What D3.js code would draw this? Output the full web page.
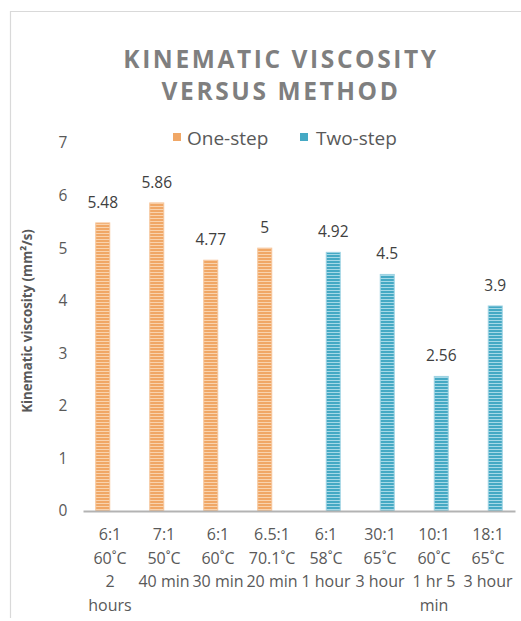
<!DOCTYPE html>
<html>
<head>
<meta charset="utf-8">
<script src="https://cdn.jsdelivr.net/npm/d3@7"></script>
<style>
  html, body { margin: 0; padding: 0; background: #fff; }
  svg { display: block; font-family: "Open Sans", "Noto Sans", sans-serif; }
</style>
</head>
<body>
<svg id="chart" width="521" height="621"></svg>
<script>
// Kinematic viscosity by transesterification method
const categories = [
  ["6:1", "60˚C", "2", "hours"],
  ["7:1", "50˚C", "40 min"],
  ["6:1", "60˚C", "30 min"],
  ["6.5:1", "70.1˚C", "20 min"],
  ["6:1", "58˚C", "1 hour"],
  ["30:1", "65˚C", "3 hour"],
  ["10:1", "60˚C", "1 hr 5", "min"],
  ["18:1", "65˚C", "3 hour"]
];
const seriesNames = ["One-step", "Two-step"];
const oneStep = [5.48, 5.86, 4.77, 5, null, null, null, null];
const twoStep = [null, null, null, null, 4.92, 4.5, 2.56, 3.9];
const yTicks = [0, 1, 2, 3, 4, 5, 6, 7];
const titleLines = ["KINEMATIC VISCOSITY", "VERSUS METHOD"];
const yTitle = "Kinematic viscosity (mm²/s)";

const svg = d3.select("#chart");

// chart frame
svg.append("path")
  .attr("d", `M10.5,618 V11.5 H521`)
  .attr("fill", "none").attr("stroke", "#d9d9d9").attr("stroke-width", 1.2);

// striped fills
const defs = svg.append("defs");
const palette = [
  { id: "stripeOrange", base: "#f0a766", light: "#f9d3ae" },
  { id: "stripeBlue", base: "#45a9c4", light: "#a6d9e7" }
];
palette.forEach(p => {
  const pat = defs.append("pattern").attr("id", p.id)
    .attr("patternUnits", "userSpaceOnUse").attr("width", 6).attr("height", 3);
  pat.append("rect").attr("width", 6).attr("height", 3).attr("fill", p.base);
  pat.append("rect").attr("y", 2).attr("width", 6).attr("height", 1).attr("fill", p.light);
});

const x = d3.scaleBand().domain(d3.range(categories.length))
  .range([83, 515]).paddingInner(0).paddingOuter(0);
const xs = d3.scaleBand().domain(seriesNames)
  .range([x.bandwidth() / 2 - 14.5, x.bandwidth() / 2 + 14.5]).padding(0);
const y = d3.scaleLinear().domain([0, 7]).range([511, 143]);

// title
const title = svg.append("text")
  .attr("text-anchor", "middle")
  .attr("fill", "#7f7f7f")
  .attr("font-weight", "bold")
  .attr("font-size", 24.5)
  .attr("letter-spacing", 2.6);
titleLines.forEach((t, i) => {
  title.append("tspan").attr("x", 281).attr("y", 68 + i * 32).text(t);
});

// legend
const legend = svg.append("g").attr("font-size", 19).attr("fill", "#595959");
const legendPos = [{ sx: 173, tx: 187 }, { sx: 300, tx: 316 }];
seriesNames.forEach((s, i) => {
  legend.append("rect").attr("x", legendPos[i].sx).attr("y", 133)
    .attr("width", 8).attr("height", 8)
    .attr("fill", i === 0 ? "#f0a766" : "#45a9c4");
  legend.append("text").attr("x", legendPos[i].tx).attr("y", 145)
    .attr("fill", "#595959").text(s);
});

// y axis labels
const yAxis = d3.axisLeft(y).tickValues(yTicks).tickSize(0).tickPadding(0)
  .tickFormat(d3.format("d"));
const yg = svg.append("g").attr("transform", "translate(63,0)").call(yAxis);
yg.select(".domain").remove();
yg.selectAll("text").attr("font-size", 15.5).attr("fill", "#595959")
  .attr("font-family", "'Open Sans', sans-serif").attr("text-anchor", "middle");

// y axis title
svg.append("text")
  .attr("transform", "translate(32,321) rotate(-90)")
  .attr("text-anchor", "middle")
  .attr("font-size", 13.3).attr("font-weight", "bold").attr("fill", "#595959")
  .text(yTitle);

// bars
const series = [
  { name: seriesNames[0], values: oneStep, fill: "url(#stripeOrange)", edge: "#f6c59a" },
  { name: seriesNames[1], values: twoStep, fill: "url(#stripeBlue)", edge: "#9fd3e3" }
];
const barW = 14;
series.forEach(s => {
  const pts = s.values.map((v, i) => ({ v, i })).filter(d => d.v != null);
  const g = svg.append("g");
  g.selectAll("rect").data(pts).join("rect")
    .attr("x", d => x(d.i) + xs(s.name) + (xs.bandwidth() - barW) / 2)
    .attr("y", d => y(d.v))
    .attr("width", barW)
    .attr("height", d => y(0) - y(d.v))
    .attr("fill", s.fill)
    .attr("stroke", s.edge).attr("stroke-width", 1);
  g.selectAll("text").data(pts).join("text")
    .attr("x", d => x(d.i) + xs(s.name) + xs.bandwidth() / 2)
    .attr("y", d => y(d.v) - 15)
    .attr("text-anchor", "middle")
    .attr("font-size", 15.5).attr("fill", "#404040")
    .text(d => d3.format("~g")(d.v));
});

// x axis baseline and category labels
const xAxis = d3.axisBottom(x).tickSize(0).tickFormat("");
const xg = svg.append("g").attr("transform", `translate(0,${y(0)})`).call(xAxis);
xg.select(".domain").attr("stroke", "#b3b3b3").attr("stroke-width", 2);

const labels = svg.append("g").attr("font-size", 16).attr("fill", "#595959");
categories.forEach((lines, i) => {
  const t = labels.append("text").attr("text-anchor", "middle").attr("fill", "#595959");
  lines.forEach((ln, j) => {
    t.append("tspan").attr("x", x(i) + x.bandwidth() / 2).attr("y", 540 + j * 23.5).text(ln);
  });
});
</script>
</body>
</html>
